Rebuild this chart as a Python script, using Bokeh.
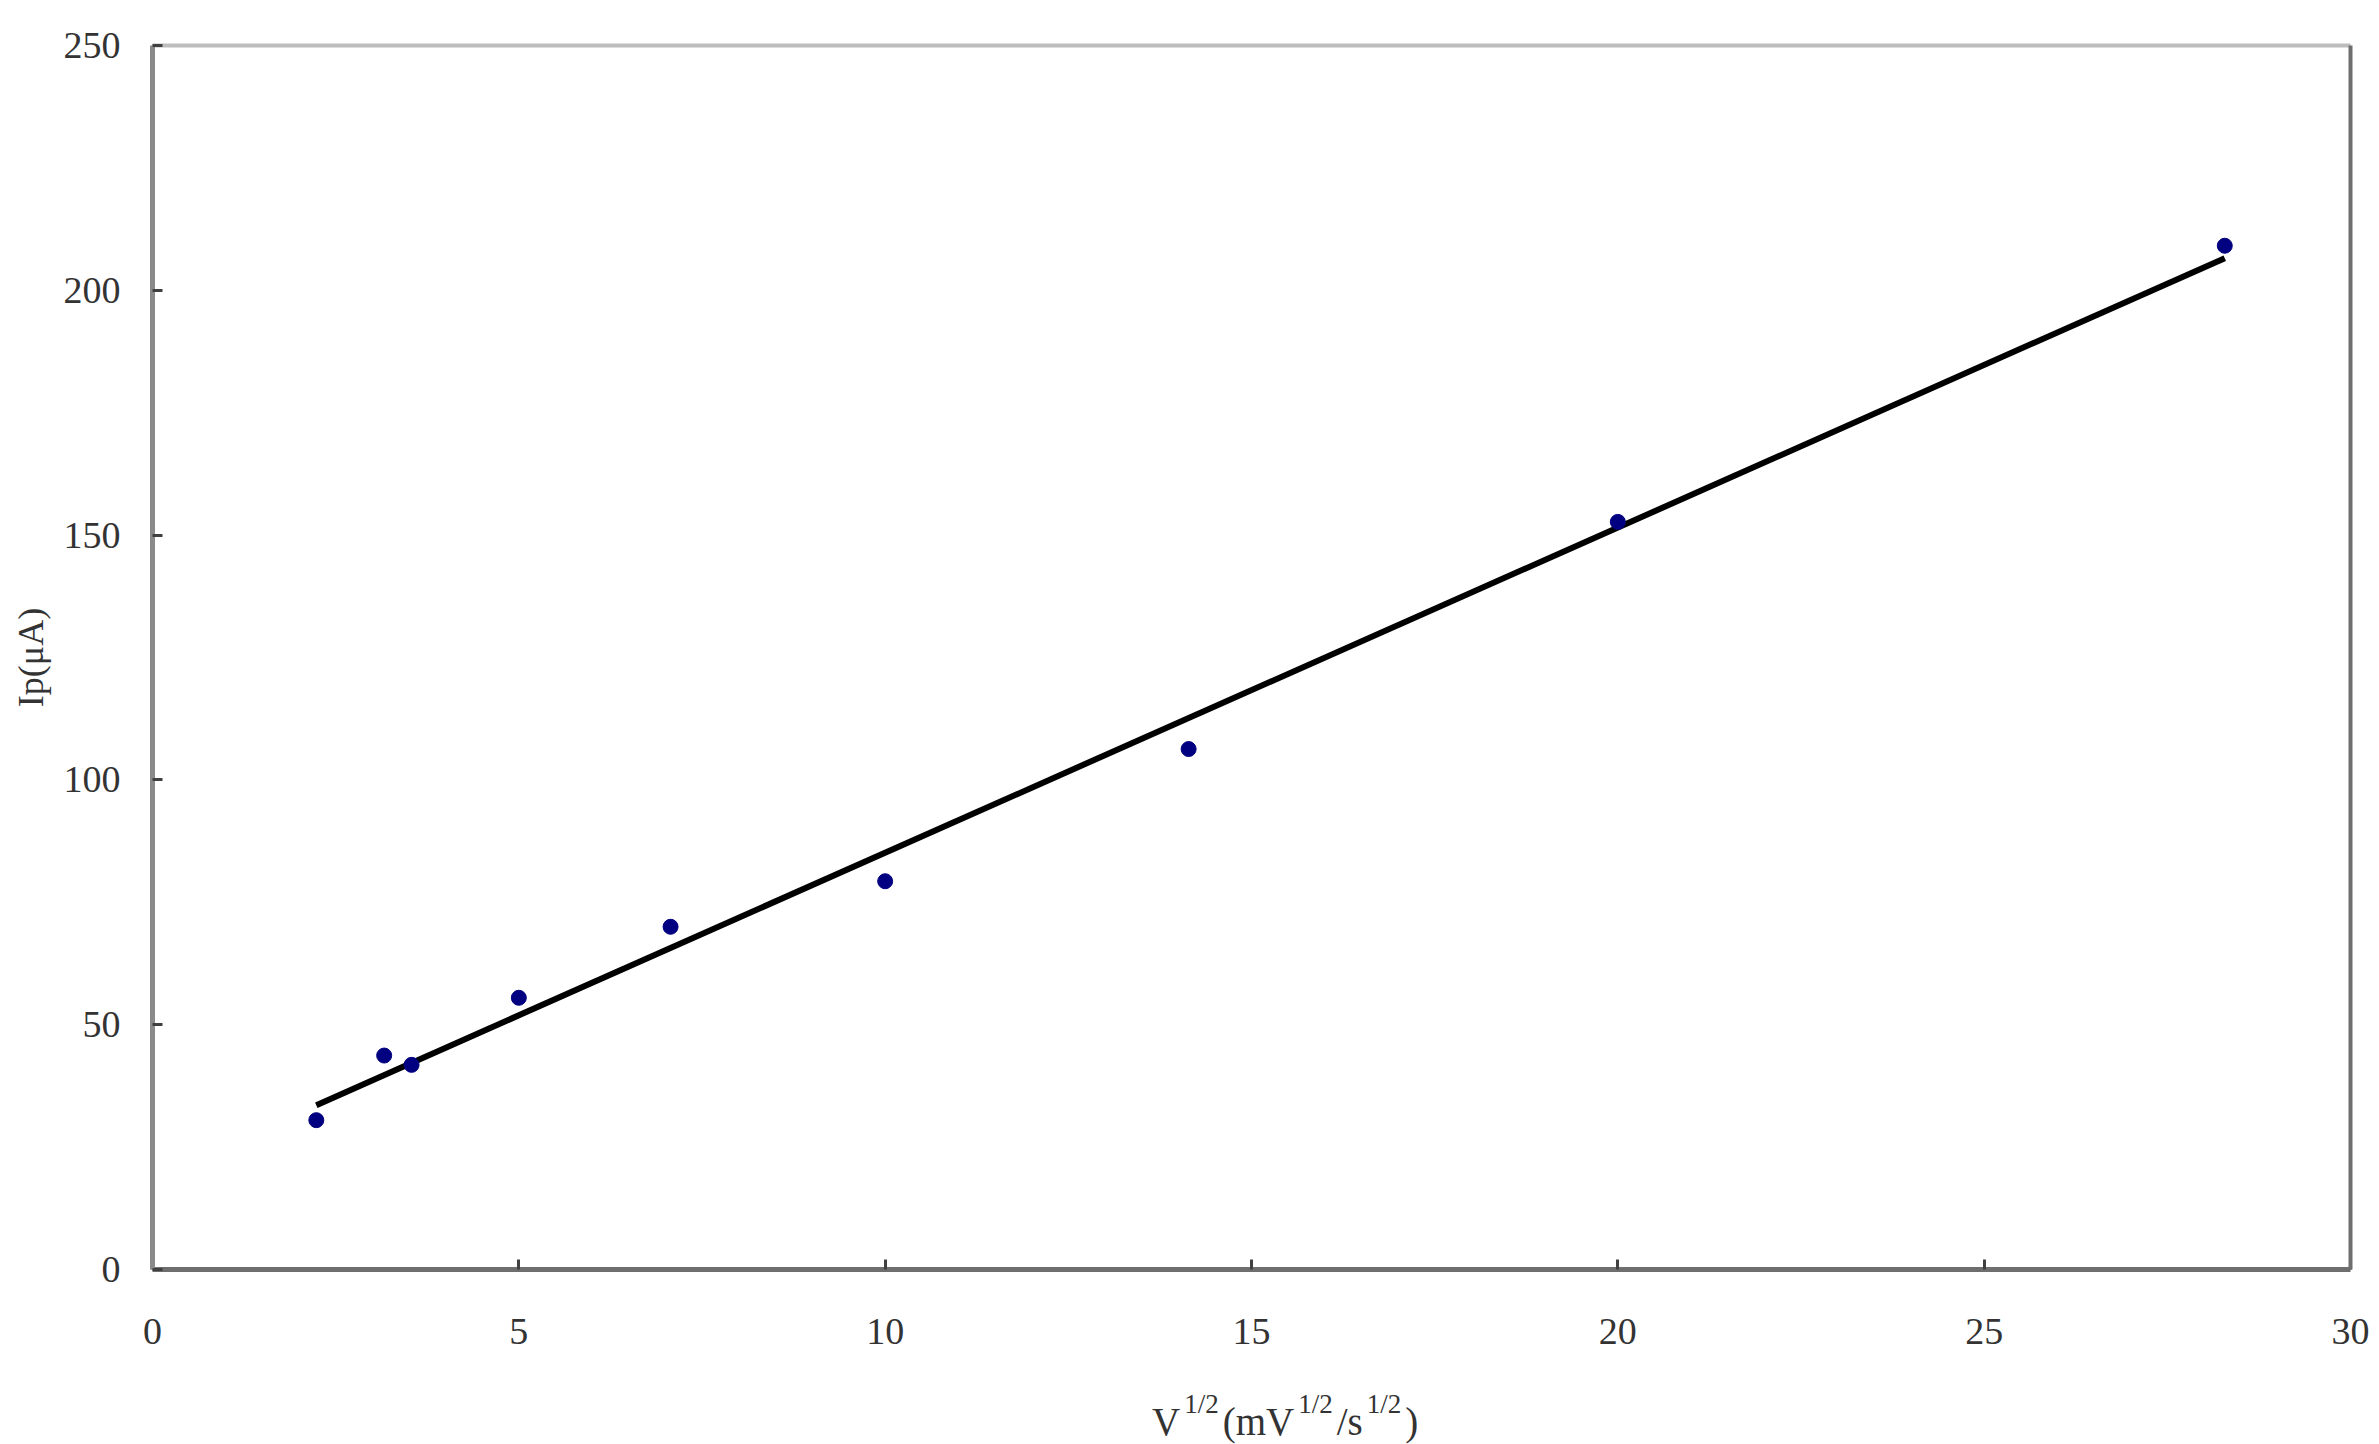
import numpy as np
from bokeh.plotting import figure
from bokeh.models import LinearAxis, FixedTicker, Range1d, Div
from bokeh.layouts import column
from bokeh.embed import file_html
from bokeh.resources import INLINE

# Data
x_sqrt_v = [2.236, 3.162, 3.536, 5.0, 7.071, 10.0, 14.142, 20.0, 28.284]
ip_uA = [30.5, 43.7, 41.8, 55.5, 70.0, 79.3, 106.3, 152.7, 209.1]

x_ticks = [0, 5, 10, 15, 20, 25, 30]
y_ticks = [0, 50, 100, 150, 200, 250]

# Least-squares fit line through the data
slope, intercept = np.polyfit(x_sqrt_v, ip_uA, 1)
fit_x = [min(x_sqrt_v), max(x_sqrt_v)]
fit_y = [slope * v + intercept for v in fit_x]

FONT = "Liberation Serif"
TXT = "#333333"

p = figure(width=2379, height=1378, output_backend="svg", toolbar_location=None,
           x_range=Range1d(0, 30), y_range=Range1d(0, 250),
           min_border_left=152, min_border_right=29, min_border_top=45, min_border_bottom=109)
p.grid.visible = False
p.outline_line_color = None
p.background_fill_color = "white"

p.line(fit_x, fit_y, line_color="black", line_width=6)
p.scatter(x_sqrt_v, ip_uA, marker="circle", size=15, fill_color="#000080", line_color="#000080")

# Axes
xa = p.xaxis[0]
ya = p.yaxis[0]
xa.ticker = FixedTicker(ticks=x_ticks)
ya.ticker = FixedTicker(ticks=y_ticks)
for ax, col in ((xa, "#6e6e6e"), (ya, "#8a8a8a")):
    ax.axis_line_color = col
    ax.axis_line_width = 5
    ax.major_tick_in = 10
    ax.major_tick_out = 0
    ax.major_tick_line_color = "#404040"
    ax.major_tick_line_width = 3
    ax.minor_tick_line_color = None
    ax.major_label_text_font = FONT
    ax.major_label_text_font_size = "38px"
    ax.major_label_text_color = TXT
xa.major_label_standoff = 49
ya.major_label_standoff = 32

ya.axis_label = "Ip(\u03bcA)"
ya.axis_label_text_font = FONT
ya.axis_label_text_font_size = "36px"
ya.axis_label_text_font_style = "normal"
ya.axis_label_text_color = TXT
ya.axis_label_standoff = 10

# top and right borders
top = LinearAxis(ticker=FixedTicker(ticks=[]), axis_line_color="#bdbdbd", axis_line_width=4,
                 major_label_text_font_size="0px", major_tick_line_color=None,
                 minor_tick_line_color=None)
right = LinearAxis(ticker=FixedTicker(ticks=[]), axis_line_color="#6e6e6e", axis_line_width=4,
                   major_label_text_font_size="0px", major_tick_line_color=None,
                   minor_tick_line_color=None)
p.add_layout(top, "above")
p.add_layout(right, "right")

# x axis title with superscripts: V^{1/2}(mV^{1/2}/s^{1/2})
sup = ('<span style="font-size:27px; position:relative; top:-22px; '
       'margin:0 4px 0 4px;">1/2</span>')
xlabel_html = (
    '<div style="margin-left:1147px; margin-top:20px; font-family:\'Liberation Serif\'; '
    'font-size:39px; line-height:38px; color:#333333; white-space:nowrap;">'
    f'V{sup}(mV{sup}/s{sup})</div>'
)
xlabel = Div(text=xlabel_html, width=2379, height=66)

layout = column(p, xlabel, spacing=0)
open("out.html", "w").write(file_html(layout, INLINE))
